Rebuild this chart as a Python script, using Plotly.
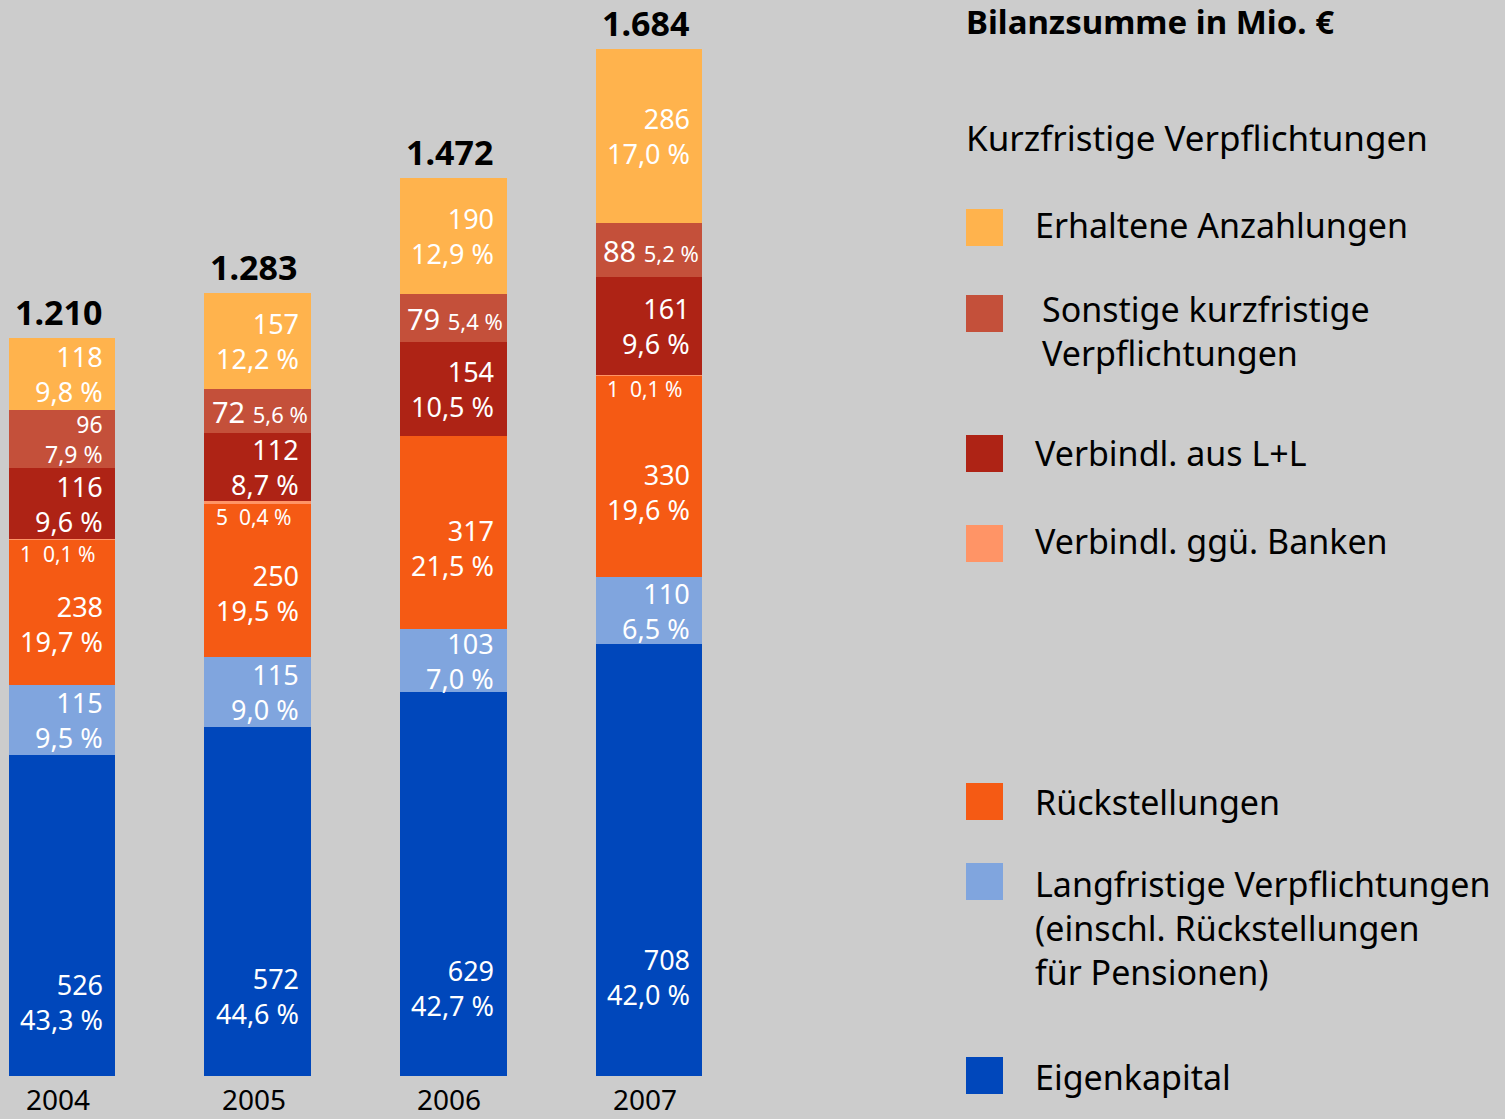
import plotly.graph_objects as go

years = ["2004", "2005", "2006", "2007"]
totals = [1210, 1283, 1472, 1684]

series_names = [
    "Eigenkapital",
    "Langfristige Verpflichtungen",
    "Rückstellungen",
    "Verbindl. ggü. Banken",
    "Verbindl. aus L+L",
    "Sonstige kurzfristige Verpflichtungen",
    "Erhaltene Anzahlungen",
]
eigenkapital = [526, 572, 629, 708]
eigenkapital_pct = ["43,3", "44,6", "42,7", "42,0"]
langfristig = [115, 115, 103, 110]
langfristig_pct = ["9,5", "9,0", "7,0", "6,5"]
rueckstellungen = [238, 250, 317, 330]
rueckstellungen_pct = ["19,7", "19,5", "21,5", "19,6"]
banken = [1, 5, 0, 1]
banken_pct = ["0,1", "0,4", "", "0,1"]
lul = [116, 112, 154, 161]
lul_pct = ["9,6", "8,7", "10,5", "9,6"]
sonstige = [96, 72, 79, 88]
sonstige_pct = ["7,9", "5,6", "5,4", "5,2"]
anzahlungen = [118, 157, 190, 286]
anzahlungen_pct = ["9,8", "12,2", "12,9", "17,0"]

values = [eigenkapital, langfristig, rueckstellungen, banken, lul, sonstige, anzahlungen]
pcts = [eigenkapital_pct, langfristig_pct, rueckstellungen_pct, banken_pct, lul_pct, sonstige_pct, anzahlungen_pct]
colors = ["#0047BB", "#80A5DE", "#F55A14", "#FF9466", "#AE2315", "#C4503A", "#FFB34D"]

FONT = "Noto Sans"
W, H = 1505, 1119
BG = "#CCCCCC"

xs = list(range(len(years)))
bar_w = 0.545

# axis ranges: bar centres at px 62 + 195.67*i ; zero at py 1076
kx = 195.67
x0 = -62 / kx
x1 = x0 + W / kx
ky = 0.61
y0 = -(H - 1076) / ky
y1 = y0 + H / ky

fig = go.Figure()
for name, vals, col in zip(series_names, values, colors):
    fig.add_trace(go.Bar(x=xs, y=vals, name=name, marker=dict(color=col, line=dict(width=0)),
                         width=bar_w, showlegend=False, hoverinfo="skip"))

LBL = 27
SMALL = 22
annotations = []
# segment labels (position fraction within segment, from bottom)
frac = [0.23, 0.5, 0.42, 0.5, 0.5, 0.5, 0.5]
for i in xs:
    base = 0
    for s, (vals, pcl) in enumerate(zip(values, pcts)):
        v = vals[i]
        pc = pcl[i]
        if v == 0:
            continue
        ymid = base + v * frac[s]
        if s == 3:  # banks: tiny strip, small label just below
            annotations.append(dict(x=i - 0.02, y=ymid, xref="x", yref="y",
                                    text=f"{v}  {pc} %", showarrow=False, xanchor="center", yanchor="middle",
                                    yshift=-14, borderpad=0, font=dict(family=FONT, size=SMALL - 1, color="white")))
        elif float(pc.replace(",", ".")) < 6 and s != 1:
            annotations.append(dict(x=i + 0.01, y=ymid, xref="x", yref="y",
                                    text=f"{v} <span style='font-size:{SMALL}px'>{pc} %</span>",
                                    showarrow=False, xanchor="center", yanchor="middle", borderpad=0,
                                    font=dict(family=FONT, size=LBL + 2, color="white")))
        else:
            fs = LBL if v * ky >= 62 else 23
            annotations.append(dict(x=i + 0.215, y=ymid, xref="x", yref="y",
                                    text=f"{v}<br>{pc} %", showarrow=False, xanchor="right", yanchor="middle",
                                    align="right", borderpad=0, font=dict(family=FONT, size=fs, color="white")))
        base += v
    # totals
    annotations.append(dict(x=i - 0.02, y=totals[i], xref="x", yref="y", text=f"<b>{totals[i]:,}</b>".replace(",", "."),
                            showarrow=False, xanchor="center", yanchor="middle", yshift=26, borderpad=0,
                            font=dict(family=FONT, size=34, color="black")))
    # year labels
    annotations.append(dict(x=i - 0.02, y=0, xref="x", yref="paper", text=years[i],
                            showarrow=False, xanchor="center", yanchor="bottom", borderpad=0,
                            font=dict(family=FONT, size=28, color="black")))

def px(x):
    return x / W

def py(y):
    return 1 - y / H

annotations.append(dict(x=px(964), y=py(21), xref="paper", yref="paper", text="<b>Bilanzsumme in Mio. €</b>",
                        showarrow=False, xanchor="left", yanchor="middle", font=dict(family=FONT, size=33, color="black")))
annotations.append(dict(x=px(964), y=py(137), xref="paper", yref="paper", text="Kurzfristige Verpflichtungen",
                        showarrow=False, xanchor="left", yanchor="middle", font=dict(family=FONT, size=35, color="black")))

legend_items = [
    (6, 209, 1033, 225, "Erhaltene Anzahlungen"),
    (5, 295, 1040, 331, "Sonstige kurzfristige<br>Verpflichtungen"),
    (4, 435, 1033, 453, "Verbindl. aus L+L"),
    (3, 525, 1033, 541, "Verbindl. ggü. Banken"),
    (2, 783, 1033, 802, "Rückstellungen"),
    (1, 863, 1033, 928, "Langfristige Verpflichtungen<br>(einschl. Rückstellungen<br>für Pensionen)"),
    (0, 1057, 1033, 1077, "Eigenkapital"),
]
shapes = []
for s, sq_top, tx, ty, label in legend_items:
    shapes.append(dict(type="rect", xref="paper", yref="paper", x0=px(966), x1=px(1003),
                       y0=py(sq_top + 37), y1=py(sq_top), fillcolor=colors[s], line=dict(width=0)))
    annotations.append(dict(x=px(tx), y=py(ty), xref="paper", yref="paper", text=label, showarrow=False,
                            xanchor="left", yanchor="middle", align="left",
                            font=dict(family=FONT, size=34, color="black")))

fig.update_layout(
    barmode="stack",
    width=W, height=H,
    margin=dict(l=0, r=0, t=0, b=0),
    paper_bgcolor=BG, plot_bgcolor=BG,
    xaxis=dict(range=[x0, x1], visible=False, fixedrange=True),
    yaxis=dict(range=[y0, y1], visible=False, fixedrange=True),
    annotations=annotations,
    shapes=shapes,
    font=dict(family=FONT),
)

fig.write_html("out.html", config={"displayModeBar": False},
               post_script="document.body.style.margin='0px';document.body.style.overflow='hidden';")
